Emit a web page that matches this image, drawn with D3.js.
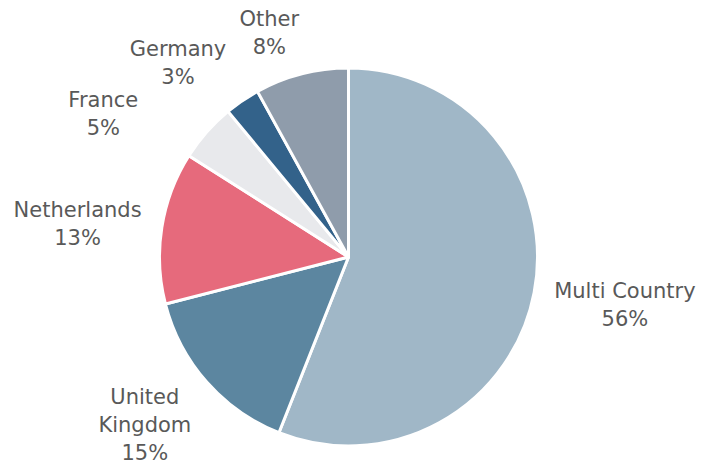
<!DOCTYPE html>
<html>
<head>
<meta charset="utf-8">
<script src="https://cdn.jsdelivr.net/npm/d3@7"></script>
<style>
  html, body { margin: 0; padding: 0; background: #fff; }
  svg text { font-family: "DejaVu Sans", sans-serif; fill: #595959; }
</style>
</head>
<body>
<div id="chart"></div>
<script>
const categories = ["Multi Country", "United Kingdom", "Netherlands", "France", "Germany", "Other"];
const shares = [56, 15, 13, 5, 3, 8];
const labelLines = [["Multi Country"], ["United", "Kingdom"], ["Netherlands"], ["France"], ["Germany"], ["Other"]];
const colors = ["#a0b7c7", "#5c86a0", "#e66a7c", "#e8e9ec", "#33628a", "#8f9cab"];

const w = 708, h = 466;
const cx = 348.5, cy = 257, r = 189;
const fontSize = 21, lineH = 28, gap = 17;
// label nudges (degrees, px) where Excel moved labels apart
const nudge = [[-1, 0], [2, -5], [-2, 0], [-11, 34], [-7, 0], [-5, -4]];

const svg = d3.select("#chart").append("svg")
    .attr("width", w)
    .attr("height", h);

const pie = d3.pie().sort(null).value(d => d.value);
const arcs = pie(categories.map((c, i) => ({ name: c, value: shares[i], i })));

const arc = d3.arc().innerRadius(0).outerRadius(r);

const g = svg.append("g").attr("transform", `translate(${cx},${cy})`);

g.selectAll("path")
    .data(arcs)
    .enter()
    .append("path")
    .attr("d", arc)
    .attr("fill", d => colors[d.data.i])
    .attr("stroke", "#fff")
    .attr("stroke-width", 3)
    .attr("stroke-linejoin", "round");

const labels = g.selectAll(".lbl")
    .data(arcs)
    .enter().append("text")
    .attr("class", "lbl")
    .attr("text-anchor", "middle")
    .style("font-size", fontSize + "px");

labels.each(function(d) {
    const t = d3.select(this);
    const lines = labelLines[d.data.i].concat([d.data.value + "%"]);
    lines.forEach((s, k) => {
        t.append("tspan").attr("x", 0).attr("dy", k === 0 ? 0 : lineH).text(s);
    });
    const bb = this.getBBox();
    const hw = bb.width / 2, hh = lines.length * lineH / 2;
    const n = nudge[d.data.i];
    const a = (d.startAngle + d.endAngle) / 2 + n[0] * Math.PI / 180;
    const sx = Math.sin(a), cy2 = -Math.cos(a);
    const dist = r + gap + n[1] + hw * Math.abs(sx) + hh * Math.abs(cy2);
    const px = dist * sx, py = dist * cy2;
    // first baseline: centre minus half block plus ascent
    const top = py - hh;
    t.attr("transform", `translate(${px},${top + lineH * 0.5 + fontSize * 0.36})`);
});
</script>
</body>
</html>
